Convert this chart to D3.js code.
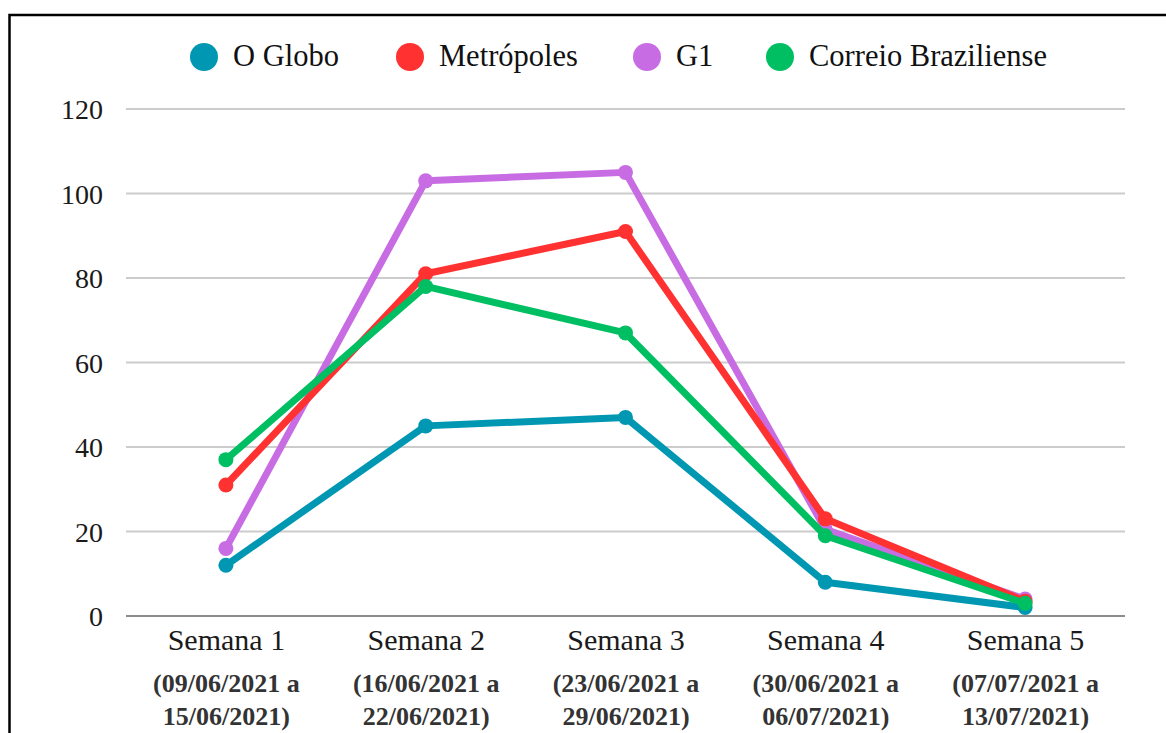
<!DOCTYPE html>
<html>
<head>
<meta charset="utf-8">
<script src="https://cdn.jsdelivr.net/npm/d3@7"></script>
<style>
    body { margin: 0; background: #fff; }
    svg text { font-family: "Liberation Serif", Tinos, "Times New Roman", serif; }
    .grid line { stroke: #cccccc; stroke-width: 2; }
    .grid .base { stroke: #666666; stroke-width: 1.5; }
</style>
</head>
<body>
<svg id="chart" width="1166" height="733"></svg>
<script>
    // dados
    let semanas = ["Semana 1", "Semana 2", "Semana 3", "Semana 4", "Semana 5"];
    let periodos = [
        ["(09/06/2021 a", "15/06/2021)"],
        ["(16/06/2021 a", "22/06/2021)"],
        ["(23/06/2021 a", "29/06/2021)"],
        ["(30/06/2021 a", "06/07/2021)"],
        ["(07/07/2021 a", "13/07/2021)"]
    ];
    let oGlobo = [12, 45, 47, 8, 2];
    let metropoles = [31, 81, 91, 23, 3.5];
    let g1 = [16, 103, 105, 20.5, 4];
    let correio = [37, 78, 67, 19, 3];
    let yTicks = [0, 20, 40, 60, 80, 100, 120];

    let series = [
        {name: "O Globo", values: oGlobo, color: "#0097b2"},
        {name: "Metrópoles", values: metropoles, color: "#ff3131"},
        {name: "G1", values: g1, color: "#c76ce3"},
        {name: "Correio Braziliense", values: correio, color: "#00bf63"}
    ];
    // ordem de desenho (a última fica por cima)
    let drawOrder = ["O Globo", "G1", "Metrópoles", "Correio Braziliense"];
    let serifFont = "'Liberation Serif'";

    let svg = d3.select("#chart");

    // moldura
    svg.append("rect")
        .attr("x", 9.5).attr("y", 15)
        .attr("width", 1200).attr("height", 800)
        .attr("fill", "none")
        .attr("stroke", "#000")
        .attr("stroke-width", 2.5);

    let x = d3.scalePoint()
        .domain(semanas)
        .range([126, 1125])
        .padding(0.5);

    let y = d3.scaleLinear()
        .domain([0, 120])
        .range([616, 109]);

    // grade
    let grid = svg.append("g").attr("class", "grid");
    grid.selectAll("line")
        .data(yTicks)
        .enter()
        .append("line")
        .attr("class", d => d == 0 ? "base" : null)
        .attr("x1", 126).attr("x2", 1125)
        .attr("y1", d => y(d)).attr("y2", d => y(d));

    // eixo y
    let yAxis = d3.axisLeft(y).tickValues(yTicks).tickSize(0).tickPadding(0);
    svg.append("g")
        .attr("transform", "translate(103,0)")
        .call(yAxis)
        .call(g => g.select(".domain").remove())
        .selectAll("text")
        .attr("font-size", 28)
        .attr("dy", "0.34em")
        .attr("fill", "#1a1a1a")
        .style("font-family", serifFont);

    // eixo x
    let xAxis = d3.axisBottom(x).tickSize(0).tickPadding(0);
    let xg = svg.append("g")
        .attr("transform", "translate(0,616)")
        .call(xAxis);
    xg.select(".domain").remove();
    xg.selectAll(".tick text").remove();
    xg.selectAll(".tick").each(function(d, i) {
        let t = d3.select(this);
        t.append("text")
            .attr("y", 34)
            .attr("text-anchor", "middle")
            .attr("font-size", 30)
            .attr("fill", "#1a1a1a")
            .style("font-family", serifFont)
            .text(d);
        periodos[i].forEach((p, k) => {
            t.append("text")
                .attr("y", 76 + k * 33)
                .attr("text-anchor", "middle")
                .attr("font-size", 26)
                .attr("font-weight", "bold")
                .attr("fill", "#333")
                .style("font-family", serifFont)
                .text(p);
        });
    });

    // linhas
    let line = d3.line()
        .x((d, i) => x(semanas[i]))
        .y(d => y(d));

    let ordered = drawOrder.map(n => series.find(s => s.name == n));
    let groups = svg.selectAll(".serie")
        .data(ordered)
        .enter()
        .append("g")
        .attr("class", "serie");

    groups.append("path")
        .attr("d", d => line(d.values))
        .attr("fill", "none")
        .attr("stroke", d => d.color)
        .attr("stroke-width", 7)
        .attr("stroke-linejoin", "round");

    groups.each(function(s) {
        d3.select(this).selectAll("circle")
            .data(s.values)
            .enter()
            .append("circle")
            .attr("cx", (d, i) => x(semanas[i]))
            .attr("cy", d => y(d))
            .attr("r", 7.5)
            .attr("fill", s.color);
    });

    // legenda
    let legendX = [204, 410, 647, 780];
    let legend = svg.append("g");
    series.forEach((s, i) => {
        legend.append("circle")
            .attr("cx", legendX[i]).attr("cy", 57)
            .attr("r", 14)
            .attr("fill", s.color);
        legend.append("text")
            .attr("x", legendX[i] + 29)
            .attr("y", 66)
            .attr("font-size", 30.5)
            .attr("fill", "#111")
            .style("font-family", serifFont)
            .text(s.name);
    });
</script>
</body>
</html>
